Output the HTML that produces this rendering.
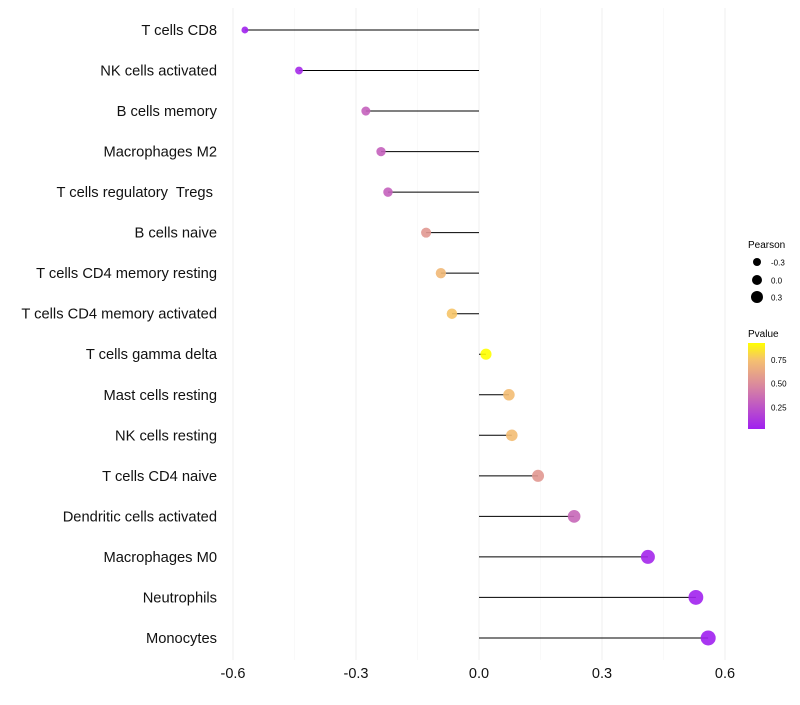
<!DOCTYPE html>
<html><head><meta charset="utf-8"><style>
body{margin:0;background:#fff}
text{font-family:"Liberation Sans",sans-serif;white-space:pre}
</style></head><body>
<svg id="chart" width="800" height="700" xmlns="http://www.w3.org/2000/svg">
<defs><linearGradient id="pg" x1="0" y1="1" x2="0" y2="0">
<stop offset="0" stop-color="#a020f0"/><stop offset="0.5" stop-color="#d9879f"/><stop offset="0.8" stop-color="#f5c070"/><stop offset="1" stop-color="#ffff00"/></linearGradient></defs>
<g id="grid"></g><g id="marks"></g><g id="labels"></g><g id="xaxis"></g>
<g>
<text x="748" y="248" font-size="10">Pearson</text>
<circle cx="757" cy="262" r="4" fill="#000"/><text x="771" y="265.5" font-size="8">-0.3</text>
<circle cx="757" cy="280" r="5" fill="#000"/><text x="771" y="283.5" font-size="8">0.0</text>
<circle cx="757" cy="297" r="6" fill="#000"/><text x="771" y="300.5" font-size="8">0.3</text>
</g>
<g>
<text x="748" y="337" font-size="10">Pvalue</text>
<rect x="748" y="343" width="17" height="86" fill="url(#pg)"/>
<text x="771" y="363" font-size="8">0.75</text><text x="771" y="386.5" font-size="8">0.50</text><text x="771" y="410.5" font-size="8">0.25</text>
</g>
</svg>
<script>
const categories=["T cells CD8","NK cells activated","B cells memory","Macrophages M2","T cells regulatory  Tregs ","B cells naive","T cells CD4 memory resting","T cells CD4 memory activated","T cells gamma delta","Mast cells resting","NK cells resting","T cells CD4 naive","Dendritic cells activated","Macrophages M0","Neutrophils","Monocytes"];
const pearson=[-0.571,-0.439,-0.276,-0.239,-0.222,-0.129,-0.093,-0.066,0.017,0.073,0.080,0.144,0.232,0.412,0.529,0.559];
const pvalues=[0.03,0.06,0.3,0.3,0.3,0.55,0.7,0.75,0.92,0.72,0.72,0.55,0.33,0.05,0.03,0.02];
const xTicks=[-0.6,-0.3,0.0,0.3,0.6];
const xMinor=[-0.45,-0.15,0.15,0.45];
const NS="http://www.w3.org/2000/svg";
const xs=v=>479+v*410;
const ys=i=>30+i*40.53;
function col(p){
  const stops=[[0,[160,32,240]],[0.5,[217,135,159]],[0.8,[245,192,112]],[1,[255,255,0]]];
  let t=(p-0.02)/(0.917-0.02);t=Math.max(0,Math.min(1,t));
  for(let k=1;k<stops.length;k++){if(t<=stops[k][0]){const a=stops[k-1],b=stops[k];const f=(t-a[0])/(b[0]-a[0]);return `rgb(${a[1].map((c,j)=>Math.round(c+(b[1][j]-c)*f)).join(',')})`;}}
  return 'rgb(255,255,0)';
}
function mk(tag,attrs,parent){const e=document.createElementNS(NS,tag);for(const k in attrs)e.setAttribute(k,attrs[k]);document.getElementById(parent).appendChild(e);return e;}
xMinor.forEach(v=>{const l=mk('line',{x1:xs(v),x2:xs(v),y1:8,y2:660,stroke:'#f5f5f5','stroke-width':0.6},'grid');

});
xTicks.forEach(v=>{const l=mk('line',{x1:xs(v),x2:xs(v),y1:8,y2:660,stroke:'#efefef','stroke-width':1},'grid');


const t=mk('text',{x:xs(v),y:678,'font-size':14.5,'text-anchor':'middle',fill:'#111'},'xaxis');t.textContent=v.toFixed(1);

});
categories.forEach((c,i)=>{
  const y=ys(i),v=pearson[i];
  const l=mk('line',{x1:xs(0),x2:xs(v),y1:y,y2:y,stroke:'#000','stroke-width':1},'marks');
  
  
  const r=Math.max(1.8,5.5+3.6*v);
  const d=mk('circle',{cx:xs(v),cy:y,r:r,fill:col(pvalues[i]),'fill-opacity':0.9},'marks');
  
  
  const t=mk('text',{x:217,y:y+5,'font-size':14.7,'text-anchor':'end',fill:'#111'},'labels');t.textContent=c;
  
  
});
</script>
</body></html>
